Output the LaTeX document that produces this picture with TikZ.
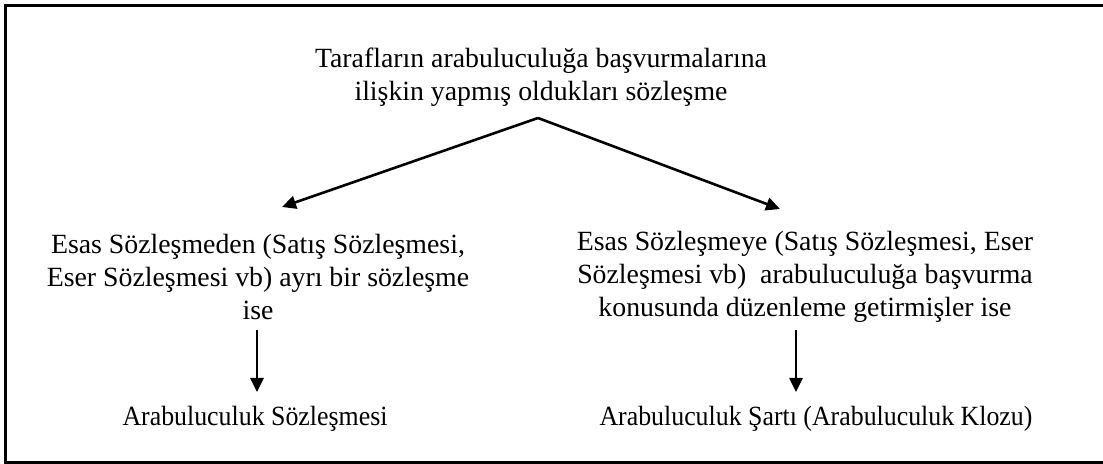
\documentclass[tikz,border=0pt]{standalone}
\usepackage{fontspec}
\setmainfont{Liberation Serif}
\usetikzlibrary{arrows.meta}

\begin{document}
\begin{tikzpicture}[x=0.5pt, y=-0.5pt]
    \tikzstyle{txt} = [align=center, inner sep=0pt, font=\fontsize{13.9}{16.4}\selectfont]
    \tikzstyle{narrow} = [txt, font=\fontsize{13.9}{16.4}\selectfont\addfontfeature{FakeStretch=0.93}]
    \tikzstyle{arr} = [-{Triangle[length=7pt, width=6.5pt]}, line width=1.3pt]
  \useasboundingbox (0,0) rectangle (1103,464);
  \draw[line width=1.5pt] (1103,6) -- (5.5,6) -- (5.5,462.5) -- (1103,462.5);
  \node[txt](contract) at (541,77){Tarafların arabuluculuğa başvurmalarına\\ilişkin yapmış oldukları sözleşme};
  \node[txt](separate) at (258,277){Esas Sözleşmeden (Satış Sözleşmesi,\\Eser Sözleşmesi vb) ayrı bir sözleşme\\ise};
  \node[txt](inside) at (805,277){Esas Sözleşmeye (Satış Sözleşmesi, Eser\\Sözleşmesi vb)\ \ arabuluculuğa başvurma\\konusunda düzenleme getirmişler ise};
  \node[narrow, anchor=base](agreement) at (255,426){Arabuluculuk Sözleşmesi};
  \node[narrow, anchor=base](clause) at (816,426){Arabuluculuk Şartı (Arabuluculuk Klozu)};
  \coordinate (apex) at (538,118);
  \coordinate (tipL) at (282,207);
  \coordinate (tipR) at (780,209);
  \coordinate (fromL) at (257,330);
  \coordinate (toL) at (257,392);
  \coordinate (fromR) at (796,330);
  \coordinate (toR) at (796,392);
  \draw[arr] (apex) -- (tipL);
  \draw[arr] (apex) -- (tipR);
  \draw[arr] (fromL) -- (toL);
  \draw[arr] (fromR) -- (toR);
  \end{tikzpicture}
\end{document}
